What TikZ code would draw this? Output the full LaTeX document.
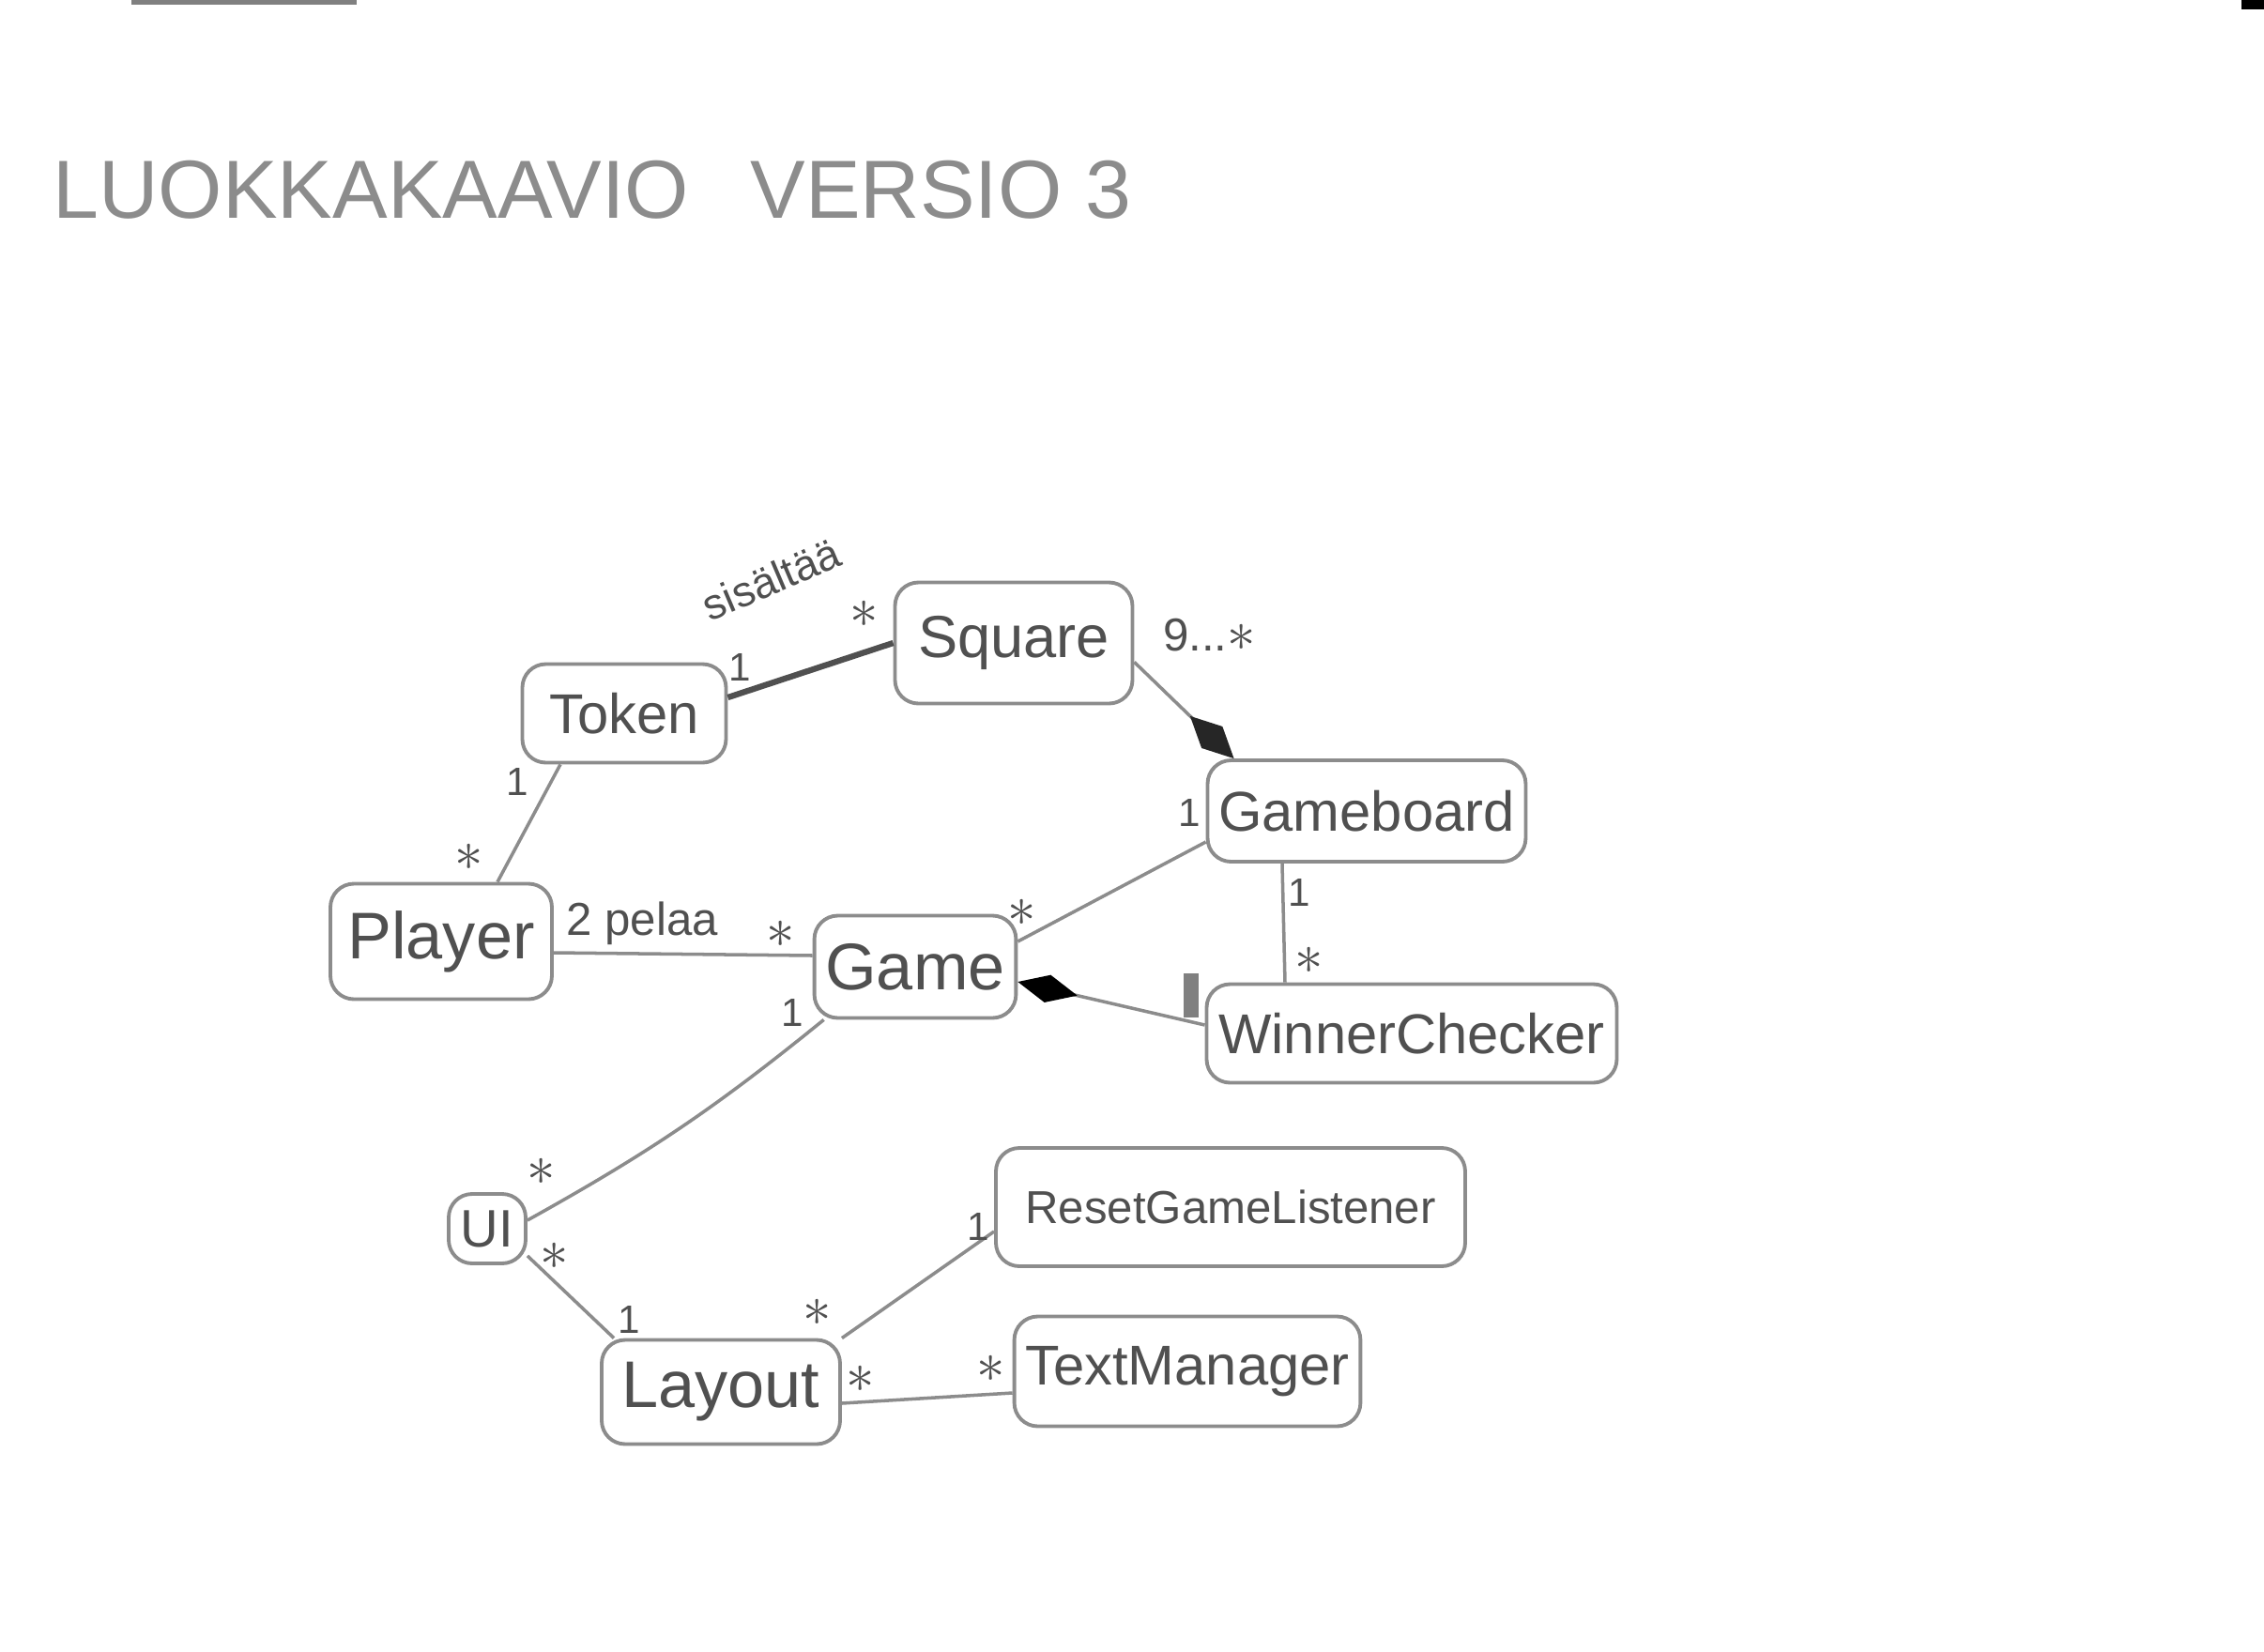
\documentclass[tikz,border=0pt]{standalone}
\usepackage{fontspec}
\setmainfont{Liberation Sans}
\usetikzlibrary{positioning,arrows.meta}
\definecolor{lyijy}{HTML}{8C8C8C}
\definecolor{tumma}{HTML}{505050}

\begin{document}
\begin{tikzpicture}[
on grid,
luokka/.style={rectangle, rounded corners=2.5mm, draw=lyijy, line width=1.1pt, text=tumma, font=\fontsize{17}{20}\selectfont},
kerroin/.style={text=tumma, inner sep=0pt, font=\fontsize{12}{12}\selectfont},
tahti/.style={text=tumma, inner sep=0pt, font=\fontsize{18}{18}\selectfont},
yhteys/.style={draw=lyijy, line width=1pt},
]
    % Paperi
    \fill [white] (0,0) rectangle (24.12,-17.60);
    \useasboundingbox (0,0) rectangle (24.12,-17.60);
    \draw [gray, line width=1.5pt] (1.4,-0.02) -- (3.8,-0.02);
    \fill [black] (23.88,0) rectangle (24.12,-0.10);
    \fill [gray] (12.61,-10.37) rectangle (12.77,-10.84);

    % Otsikko
    \node [anchor=west, inner sep=0pt, text=lyijy, font=\fontsize{25}{30}\selectfont] (otsikko) at (0.56,-2.02) {LUOKKAKAAVIO\hspace{0.75em}VERSIO 3};

    % Luokat
    \node [luokka, minimum width=2.05cm, minimum height=1.09cm, font=\fontsize{20}{24}\selectfont] (game) at (9.75,-10.30) {Game};
    \node [luokka, minimum width=2.36cm, minimum height=1.23cm, font=\fontsize{20}{24}\selectfont, above left=0.27cm and 5.05cm of game] (player) {Player};
    \node [luokka, minimum width=2.17cm, minimum height=1.05cm, above right=2.43cm and 1.95cm of player] (token) {Token};
    \node [luokka, minimum width=2.53cm, minimum height=1.29cm, font=\fontsize{18}{22}\selectfont, above right=0.75cm and 4.15cm of token] (square) {Square};
    \node [luokka, minimum width=3.34cm, minimum height=1.08cm, below right=1.79cm and 3.76cm of square] (gameboard) {Gameboard};
    \node [luokka, minimum width=4.37cm, minimum height=1.05cm, below right=2.37cm and 0.48cm of gameboard] (winner) {WinnerChecker};
    \node [luokka, minimum width=0.82cm, minimum height=0.74cm, inner sep=1pt, font=\fontsize{16}{18}\selectfont, below left=2.79cm and 4.56cm of game] (ui) {UI};
    \node [luokka, minimum width=2.54cm, minimum height=1.11cm, font=\fontsize{20}{24}\selectfont, below right=1.74cm and 2.49cm of ui] (layout) {Layout};
    \node [luokka, minimum width=5.00cm, minimum height=1.26cm, font=\fontsize{14}{17}\selectfont, above right=1.97cm and 5.43cm of layout] (reset) {ResetGameListener};
    \node [luokka, minimum width=3.68cm, minimum height=1.17cm, above right=0.22cm and 4.97cm of layout] (textm) {TextManager};

    % Yhteydet
    \draw [yhteys, draw=tumma, line width=1.8pt] ([yshift=0.17cm]token.east) -- (square.west);
    \draw [yhteys, -{Diamond[length=6.5mm, width=3.2mm, gray!30!black]}] (square.-9) -- ([xshift=0.3cm]gameboard.north west);
    \draw [yhteys] ([xshift=-0.68cm]token.south) -- ([xshift=0.6cm]player.north);
    \draw [yhteys] ([yshift=-0.12cm]player.east) -- ([yshift=0.12cm]game.west);
    \draw [yhteys] ([yshift=-0.33cm]gameboard.west) -- ([yshift=0.27cm]game.east);
    \draw [yhteys] ([xshift=-0.9cm]gameboard.south) -- ([xshift=-1.35cm]winner.north);
    \draw [yhteys, -{Diamond[length=6.5mm, width=3mm, black]}] ([yshift=0.09cm]winner.west) -- ([yshift=-0.16cm]game.east);
    \draw [yhteys] ([xshift=0.12cm]game.south west) to [bend left=5] ([yshift=0.09cm]ui.east);
    \draw [yhteys] ([yshift=0.1cm]ui.south east) -- ([xshift=0.15cm]layout.north west);
    \draw [yhteys] (layout.north east) -- ([yshift=-0.26cm]reset.west);
    \draw [yhteys] ([yshift=-0.12cm]layout.east) -- ([yshift=-0.23cm]textm.west);

    % Kertoimet
    \node [kerroin, rotate=23, font=\fontsize{13}{13}\selectfont] (sisaltaa) at ([shift={(-1.30,0.68)}]square.west) {sisältää};
    \node [tahti] (k1) at ([shift={(-0.31,0.31)}]square.west) {$\ast$};
    \node [kerroin, font=\fontsize{14}{14}\selectfont] (k3) at ([shift={(0.80,0.08)}]square.east) {9...{\fontsize{18}{18}\selectfont$\ast$}};
    \node [kerroin] (k2) at ([shift={(0.13,0.49)}]token.east) {1};
    \node [kerroin] (k4) at ([shift={(-1.14,-0.19)}]token.south) {1};
    \node [tahti] (k5) at ([shift={(0.30,0.26)}]player.north) {$\ast$};
    \node [kerroin, anchor=west, font=\fontsize{14}{14}\selectfont] (pelaa) at ([shift={(0.13,0.19)}]player.east) {2 pelaa};
    \node [tahti] (k6) at ([shift={(-0.34,0.35)}]game.west) {$\ast$};
    \node [tahti] (k7) at ([shift={(0.04,0.58)}]game.east) {$\ast$};
    \node [kerroin] (k8) at ([shift={(-0.17,-0.02)}]gameboard.west) {1};
    \node [kerroin] (k9) at ([shift={(-0.72,-0.31)}]gameboard.south) {1};
    \node [tahti] (k10) at ([shift={(-1.09,0.23)}]winner.north) {$\ast$};
    \node [kerroin] (k11) at ([shift={(-0.21,0.07)}]game.south west) {1};
    \node [tahti] (k12) at ([shift={(0.15,0.22)}]ui.north east) {$\ast$};
    \node [tahti] (k13) at ([shift={(0.29,-0.29)}]ui.east) {$\ast$};
    \node [kerroin] (k14) at ([shift={(0.31,0.20)}]layout.north west) {1};
    \node [tahti] (k15) at ([shift={(-0.26,0.27)}]layout.north east) {$\ast$};
    \node [kerroin] (k16) at ([shift={(-0.17,-0.21)}]reset.west) {1};
    \node [tahti] (k17) at ([shift={(0.20,0.14)}]layout.east) {$\ast$};
    \node [tahti] (k18) at ([shift={(-0.23,0.03)}]textm.west) {$\ast$};
\end{tikzpicture}
\end{document}
